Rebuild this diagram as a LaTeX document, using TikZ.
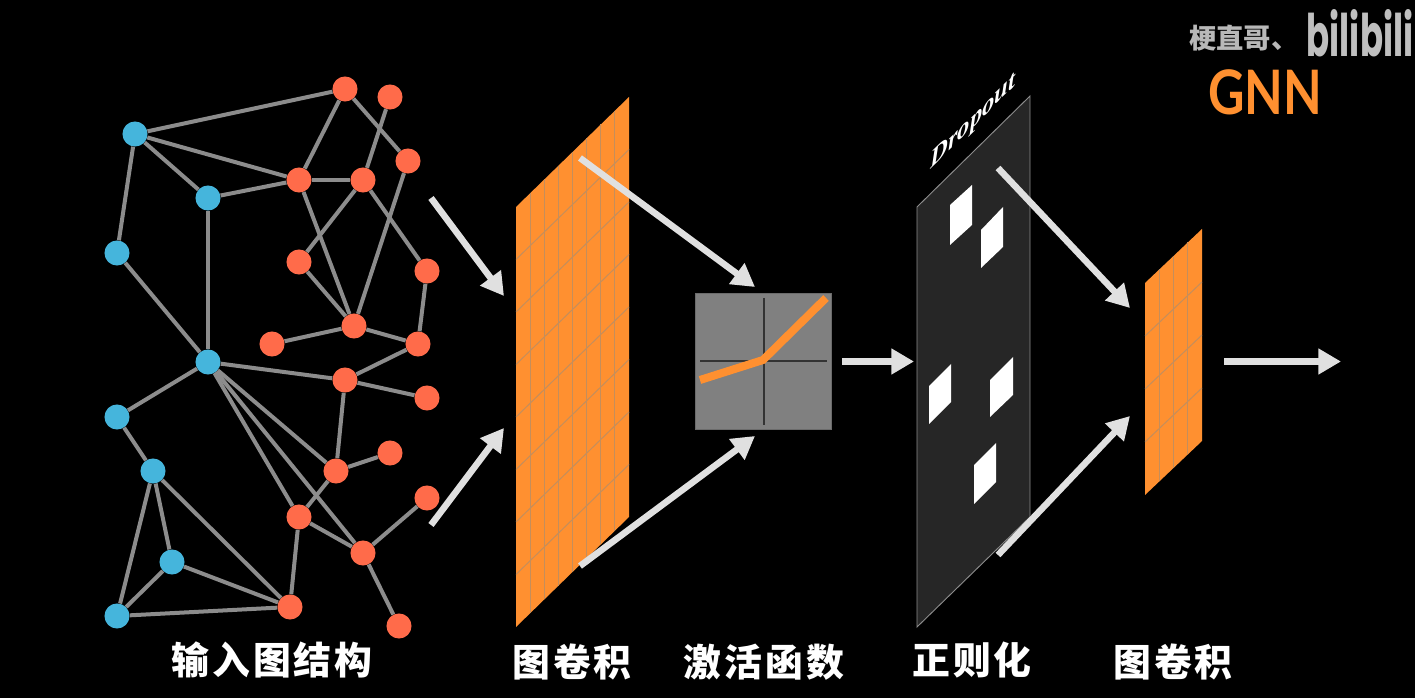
\documentclass[tikz,border=0pt]{standalone}
\usepackage{fontspec}
\usetikzlibrary{arrows.meta}
\newfontfamily\cjk[LetterSpace=8]{Noto Sans CJK SC}
\newfontfamily\cjkplain{Noto Sans CJK SC}
\newfontfamily\logofont{Poppins}
\newfontfamily\gnnfont{Lato}
\newfontfamily\dropfont{Liberation Serif}
\definecolor{blueN}{HTML}{45B5DC}
\definecolor{redN}{HTML}{FF6B4A}
\definecolor{edgeG}{HTML}{8C8C8C}
\definecolor{orangeP}{HTML}{FF9030}
\definecolor{gridG}{HTML}{C48E5C}
\definecolor{arrowG}{HTML}{E0E0E0}
\definecolor{darkP}{HTML}{262626}
\tikzset{
  bnode/.style={circle,fill=blueN,inner sep=0pt,minimum size=18.8pt},
  rnode/.style={circle,fill=redN,inner sep=0pt,minimum size=18.8pt},
  gedge/.style={draw=edgeG,line width=3pt},
  bigarrow/.style={draw=arrowG,line width=4.9pt,-{Triangle[length=17pt,width=18.5pt,fill=arrowG]}},
  gridline/.style={draw=gridG,line width=0.75pt},
  whitecell/.style={fill=white},
  caption/.style={text=white,font=\cjk\bfseries\fontsize{28.4pt}{32pt}\selectfont,inner sep=0pt}
}
\begin{document}
\begin{tikzpicture}[x=0.75pt,y=-0.75pt]
\fill[black] (0,0) rectangle (1415,698);
\useasboundingbox (0,0) rectangle (1415,698);
% graph nodes
\foreach \n/\x/\y in {b1/135/134,b2/208/198,b3/117/253,b4/208/362,b5/117/417,b6/153/471,b7/172/562,b8/117/616}
  \node[bnode] (\n) at (\x,\y) {};
\foreach \n/\x/\y in {r1/345/89,r2/390/97,r3/408/161,r4/299/180,r5/363/180,r6/299/262,r7/427/271,r8/354/326,r9/272/344,r10/418/344,r11/345/380,r12/427/398,r13/336/471,r14/390/453,r15/427/498,r16/299/517,r17/363/553,r18/290/607,r19/399/626}
  \node[rnode] (\n) at (\x,\y) {};
\foreach \a/\b in {b1/r1,b1/r4,b1/b2,b1/b3,b2/r4,b2/b4,b3/b4,r1/r4,r1/r3,r2/r5,r4/r5,r4/r8,r5/r6,r5/r7,r3/r8,r6/r8,r7/r10,r8/r9,r8/r10,r10/r11,r11/r12,b4/r11,b4/b5,b4/r13,b4/r16,b4/r17,r11/r13,r13/r14,r13/r16,r16/r17,r17/r15,r17/r19,r16/r18,b5/b6,b6/b8,b6/b7,b6/r18,b7/b8,b7/r18,b8/r18}
  \draw[gedge] (\a) -- (\b);
% first convolution panel
\fill[orangeP] (516,207) -- (629,97) -- (629,517) -- (516,627) -- cycle;
\foreach \k in {1,...,7}
  \draw[gridline] ({516+\k*14.125},{207-\k*13.75}) -- ({516+\k*14.125},{627-\k*13.75});
\foreach \k in {1,...,7}
  \draw[gridline] (516,{207+\k*52.5}) -- (629,{97+\k*52.5});
% activation box
\node[fill=white!50!black,draw=white!42!black,line width=0.7pt,minimum size=102pt,inner sep=0pt] (act) at (763.5,361.5) {};
\draw[black!80,line width=1.5pt] (700,361.5) -- (827,361.5);
\draw[black!80,line width=1.5pt] (763.5,298) -- (763.5,425);
\draw[orangeP,line width=6pt] (700,380) -- (763,360) -- (826,298);
% dropout panel
\draw[fill=darkP,draw=edgeG,line width=0.7pt] (917,207) -- (1030,96) -- (1030,517) -- (917,627) -- cycle;
\foreach \xa/\xb/\lt/\rt/\lb/\rb in {950/972/205/185/245/225,981/1003/230/207/268/247,929/951/386/364/424/402,990/1013/380/357/417/395,974/996/465/443/504/482}
  \fill[whitecell] (\xa,\lt) -- (\xb,\rt) -- (\xb,\rb) -- (\xa,\lb) -- cycle;
\node[text=white,inner sep=0pt,transform shape,yslant=0.98,font=\dropfont\itshape\bfseries\fontsize{18.5pt}{22pt}\selectfont] (dropout) at (973,122) {Dropout};
% second convolution panel
\fill[orangeP] (1145,283) -- (1202,229) -- (1202,441) -- (1145,495) -- cycle;
\foreach \k in {1,2,3}
  \draw[gridline] ({1145+\k*14.25},{283-\k*13.5}) -- ({1145+\k*14.25},{495-\k*13.5});
\foreach \k in {1,2,3}
  \draw[gridline] (1145,{283+\k*53}) -- (1202,{229+\k*53});
% arrows
\coordinate (a1s) at (431,198); \coordinate (a1e) at (504,296);
\coordinate (a2s) at (431,525); \coordinate (a2e) at (504,428);
\coordinate (a3s) at (580,158); \coordinate (a3e) at (755,287);
\coordinate (a4s) at (580,566); \coordinate (a4e) at (755,436);
\coordinate (a5s) at (842,361.5); \coordinate (a5e) at (914,361.5);
\coordinate (a6s) at (998,168); \coordinate (a6e) at (1130,308);
\coordinate (a7s) at (998,555); \coordinate (a7e) at (1130,416);
\coordinate (a8s) at (1224,361.5); \coordinate (a8e) at (1341,361.5);
\foreach \i in {1,...,8}
  \draw[bigarrow] (a\i s) -- (a\i e);
% captions
\node[caption] (c1) at (272,660) {输入图结构};
\node[caption] (c2) at (572,662) {图卷积};
\node[caption] (c3) at (764,662) {激活函数};
\node[caption] (c4) at (972,660) {正则化};
\node[caption] (c5) at (1173,662) {图卷积};
% watermark
\node[text=white!72!black,anchor=west,inner sep=0pt,font=\cjkplain\bfseries\fontsize{20.5pt}{24pt}\selectfont] (wm) at (1189,38) {梗直哥、};
\node[text=white!75!black,inner sep=0pt,transform shape,xscale=0.58,font=\logofont\bfseries\fontsize{44pt}{46pt}\selectfont] (bili) at (1360,33) {bilibili};
\node[text=orangeP,inner sep=0pt,transform shape,xscale=0.82,font=\gnnfont\bfseries\fontsize{46pt}{48pt}\selectfont] (gnn) at (1265,92) {GNN};
\end{tikzpicture}
\end{document}
